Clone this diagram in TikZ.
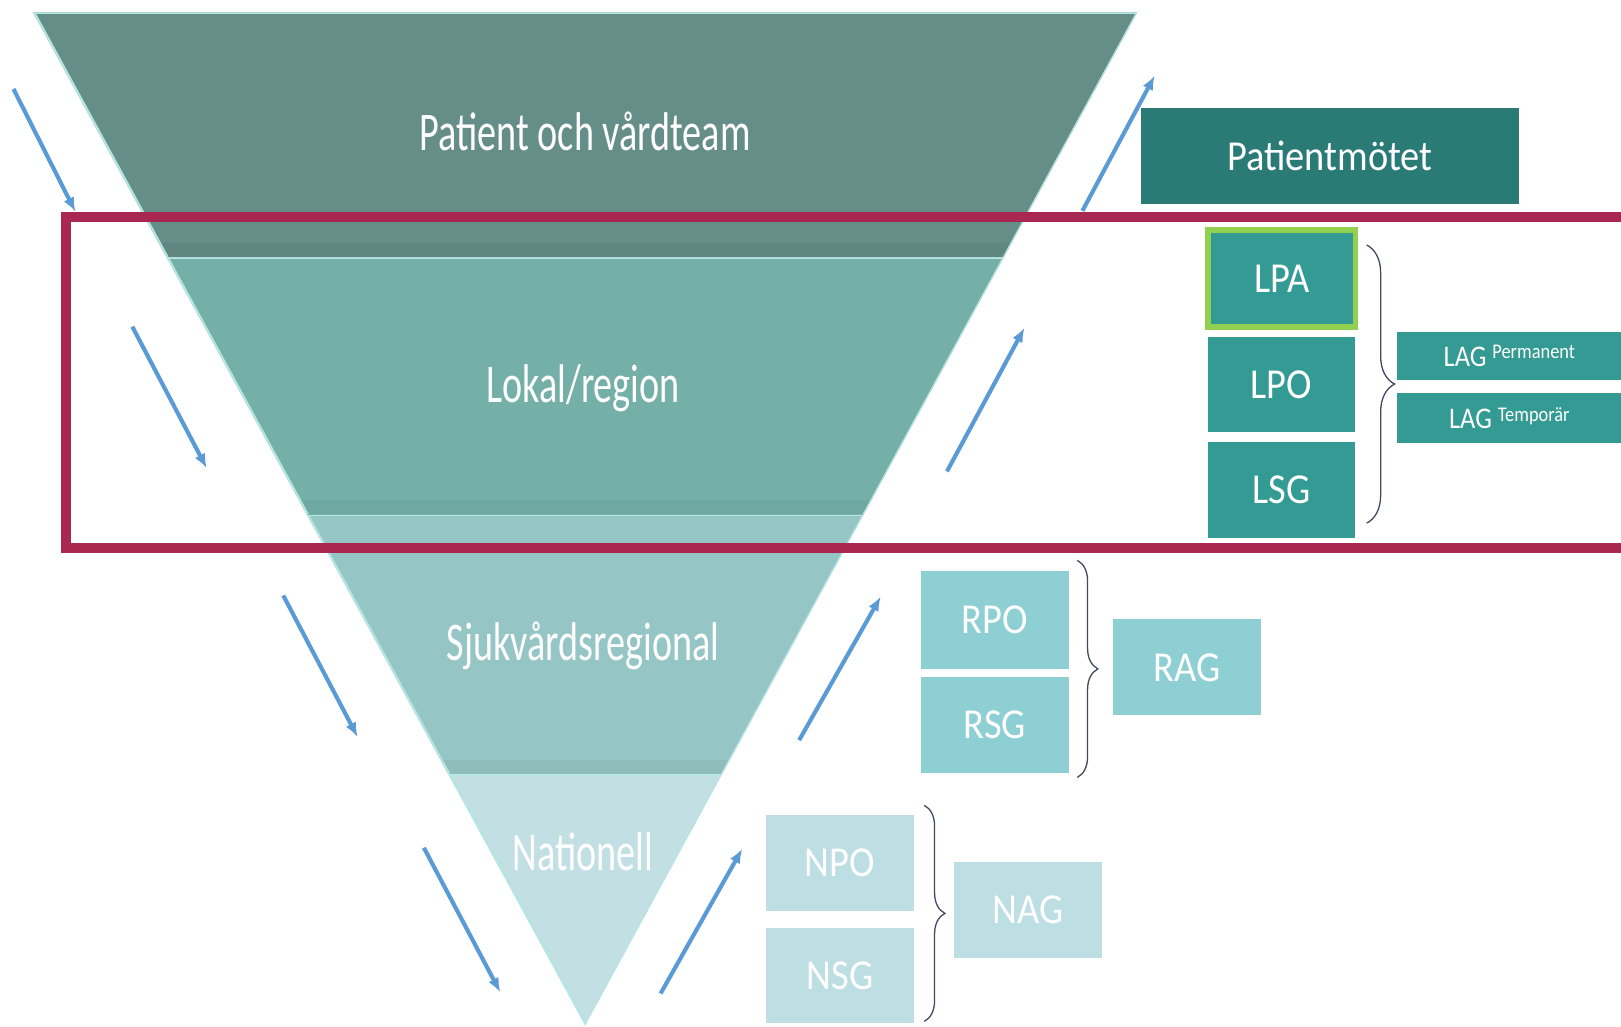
\documentclass[tikz,border=0pt]{standalone}
\usepackage{graphicx}
\usepackage{fontspec}
\setmainfont{Carlito}
\usetikzlibrary{arrows.meta,decorations.pathreplacing}

\definecolor{band1}{HTML}{668E88}
\definecolor{band2}{HTML}{74AFA8}
\definecolor{band3}{HTML}{95C5C4}
\definecolor{band4}{HTML}{C2DFE3}
\definecolor{rimcol}{HTML}{B4E6E3}
\definecolor{frame}{HTML}{A82852}
\definecolor{pmteal}{HTML}{2A7B76}
\definecolor{lteal}{HTML}{339B94}
\definecolor{lgreen}{HTML}{92D050}
\definecolor{rteal}{HTML}{8DCFD3}
\definecolor{nteal}{HTML}{BDDEE3}
\definecolor{flowblue}{HTML}{5B9BD5}
\definecolor{bracegray}{HTML}{3F4A5C}

\newcommand{\tiertext}[1]{\scalebox{0.70}[1]{#1}}
\newcommand{\boxtext}[1]{\scalebox{0.9}[1]{#1}}
\newcommand{\lagtext}[1]{\scalebox{0.88}[1]{LAG \raisebox{0.15cm}{\fontsize{11.5}{13}\selectfont #1}}}

\tikzset{
  tier/.style={anchor=base, text=white, inner sep=0pt, font=\fontsize{30}{36}\selectfont},
  box/.style={inner sep=0pt, outer sep=0pt, text=white, minimum width=2.86cm, minimum height=1.86cm, font=\fontsize{23.5}{28}\selectfont},
  lagbox/.style={box, fill=lteal, minimum width=4.36cm, font=\fontsize{16.5}{19}\selectfont},
  flow/.style={draw=flowblue, line width=0.08cm, -{Latex[length=0.28cm,width=0.22cm]}},
  grouping/.style={draw=bracegray, line width=0.025cm, decorate, decoration={brace, amplitude=#1}},
  rim/.style={draw=rimcol}
}

\begin{document}
\begin{tikzpicture}[x=0.02cm, y=-0.02cm]
\useasboundingbox (0,0) rectangle (1568,993);
\clip (0,0) rectangle (1568,993);

% funnel bands
\foreach \ya/\yb/\col/\shadow in {12/249/band1/0.05, 249/498/band2/0.04, 498/749/band3/0.04, 749/992/band4/0}{
  \begin{scope}
    \clip ({32+0.545*(\ya-12)},\ya) -- ({1100-0.545*(\ya-12)},\ya)
       -- ({1100-0.545*(\yb-12)},\yb) -- ({32+0.545*(\yb-12)},\yb) -- cycle;
    \fill[\col] (0,\ya) rectangle (1568,\yb);
    \fill[black, opacity=\shadow] (0,\yb-14) rectangle (1568,\yb);
    \draw[rim, line width=0.06cm] (0,\ya) -- (1568,\ya);
    \draw[rim, line width=0.08cm] ({32+0.545*(\ya-12)},\ya) -- ({32+0.545*(\yb-12)},\yb);
    \draw[rim, line width=0.04cm] ({1100-0.545*(\ya-12)},\ya) -- ({1100-0.545*(\yb-12)},\yb);
  \end{scope}
}

\node[tier] (patient) at (566,146) {\tiertext{Patient och vårdteam}};
\node[tier] (lokal) at (564,389) {\tiertext{Lokal/region}};
\node[tier] (sjukv) at (564,639) {\tiertext{Sjukvårdsregional}};
\node[tier] (nation) at (564,842) {\tiertext{Nationell}};

% arrows down and up
\path   (13,86) coordinate (d1-a)    (73,205) coordinate (d1-b)
        (128,316) coordinate (d2-a)  (200,453) coordinate (d2-b)
        (274,576) coordinate (d3-a)  (346,713) coordinate (d3-b)
        (410,820) coordinate (d4-a)  (484,960) coordinate (d4-b)
        (1047,204) coordinate (u1-a) (1117,73) coordinate (u1-b)
        (916,456) coordinate (u2-a)  (991,317) coordinate (u2-b)
        (773,716) coordinate (u3-a)  (852,577) coordinate (u3-b)
        (639,961) coordinate (u4-a)  (718,821) coordinate (u4-b);
\foreach \i in {1,2,3,4}{
  \draw[flow] (d\i-a) -- (d\i-b);
  \draw[flow] (u\i-a) -- (u\i-b);
}

% local frame
\draw[frame, line width=0.2cm] (64,210) rectangle (1620,530);

% boxes
\node[box, fill=pmteal, minimum width=7.3cm] (pm) at (1286.5,150.5) {\boxtext{Patientmötet}};
\node[box, fill=lteal, draw=lgreen, line width=0.11cm, minimum width=2.85cm, minimum height=1.87cm] (lpa) at (1240,269.5) {\boxtext{LPA}};
\node[box, fill=lteal, minimum height=1.84cm] (lpo) at (1239.5,372) {\boxtext{LPO}};
\node[box, fill=lteal, minimum height=1.84cm] (lsg) at (1239.5,474) {\boxtext{LSG}};
\node[lagbox, minimum height=0.94cm] (lagp) at (1460,344.5) {\lagtext{Permanent}};
\node[lagbox, minimum height=0.98cm] (lagt) at (1460,404.5) {\lagtext{Temporär}};

\node[box, fill=rteal, minimum height=1.9cm] (rpo) at (962.5,599.5) {\boxtext{RPO}};
\node[box, fill=rteal] (rsg) at (962.5,701.5) {\boxtext{RSG}};
\node[box, fill=rteal] (rag) at (1148.5,645.5) {\boxtext{RAG}};

\node[box, fill=nteal] (npo) at (812.5,834.5) {\boxtext{NPO}};
\node[box, fill=nteal, minimum height=1.84cm] (nsg) at (812.5,944) {\boxtext{NSG}};
\node[box, fill=nteal] (nag) at (994.5,880.5) {\boxtext{NAG}};

% braces
\path   (1322,237) coordinate (lb-a)  (1322,506) coordinate (lb-b)
        (1042,542) coordinate (rb-a)  (1042,752) coordinate (rb-b)
        (894,779) coordinate (nb-a)   (894,988) coordinate (nb-b);
\draw[grouping=0.54cm] (lb-a) -- (lb-b);
\draw[grouping=0.4cm] (rb-a) -- (rb-b);
\draw[grouping=0.4cm] (nb-a) -- (nb-b);

\end{tikzpicture}
\end{document}
